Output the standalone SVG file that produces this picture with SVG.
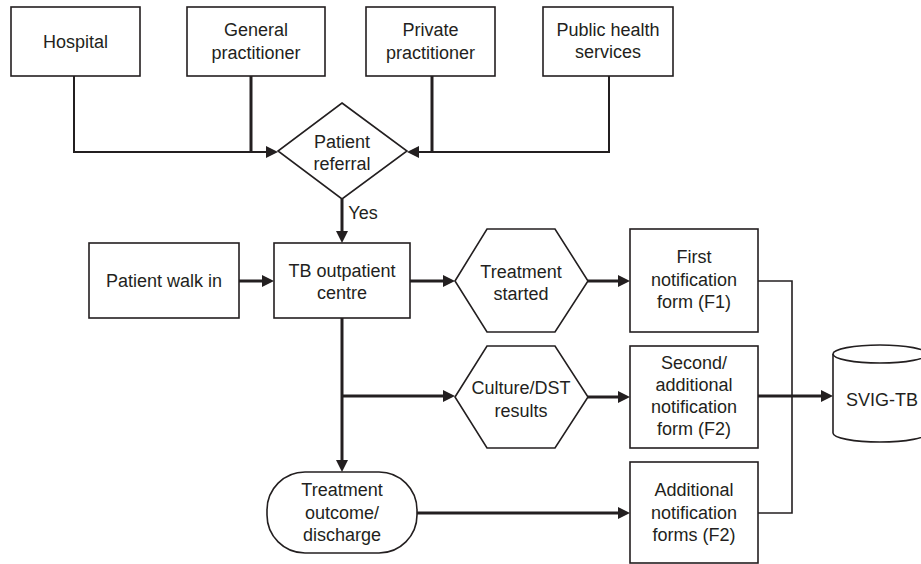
<svg xmlns="http://www.w3.org/2000/svg" width="921" height="564" viewBox="0 0 921 564">
<style>
.n{fill:#fff;stroke:#231f20;stroke-width:1.6}
text{font-family:"Liberation Sans",Arial,sans-serif;font-size:18px;fill:#231f20;text-anchor:middle}
.c{fill:none;stroke:#231f20;stroke-width:3}
.t{fill:none;stroke:#231f20;stroke-width:1.6}
.m{fill:none;stroke:#231f20;stroke-width:2}
.a{fill:#231f20}
</style>
<rect width="921" height="564" fill="#fff"/>
<g id="connectors">
<path class="m" d="M74,76 V152 H266" />
<path class="a" d="M266,146 L278,152 L266,158 z"/>
<path class="c" d="M251,76 V152"/>
<path class="m" d="M251,152 H266"/>
<path class="m" d="M609,76 V152 H419"/>
<path class="a" d="M419,146 L407,152 L419,158 z"/>
<path class="c" d="M432,76 V152"/>
<path class="c" d="M342,199 V231"/>
<path class="a" d="M336,231 L342,243 L348,231 z"/>
<path class="c" d="M239,281 H262"/>
<path class="a" d="M262,275 L274,281 L262,287 z"/>
<path class="c" d="M410,281 H443"/>
<path class="a" d="M443,275 L455,281 L443,287 z"/>
<path class="c" d="M588,281 H618"/>
<path class="a" d="M618,275 L630,281 L618,287 z"/>
<path class="c" d="M342,318 V460"/>
<path class="a" d="M336,460 L342,472 L348,460 z"/>
<path class="c" d="M342,396 H443"/>
<path class="a" d="M443,390 L455,396 L443,402 z"/>
<path class="c" d="M588,397 H618"/>
<path class="a" d="M618,391 L630,397 L618,403 z"/>
<path class="c" d="M417,513 H618"/>
<path class="a" d="M618,507 L630,513 L618,519 z"/>
<path class="t" d="M758,281 H792 V513 H758"/>
<path class="c" d="M758,396 H821"/>
<path class="a" d="M821,390 L833,396 L821,402 z"/>
</g>
<g id="hospital">
<rect class="n" x="11" y="7" width="129" height="69"/>
<text x="75.5" y="48">Hospital</text>
</g>
<g id="general">
<rect class="n" x="187" y="7" width="138" height="69"/>
<text x="256" y="36">General</text>
<text x="256" y="59">practitioner</text>
</g>
<g id="private">
<rect class="n" x="366" y="7" width="129" height="69"/>
<text x="430.5" y="36">Private</text>
<text x="430.5" y="59">practitioner</text>
</g>
<g id="public">
<rect class="n" x="543" y="7" width="130" height="69"/>
<text x="608" y="36">Public health</text>
<text x="608" y="58">services</text>
</g>
<g id="referral">
<polygon class="n" points="342,103 407,151 342,199 278,151"/>
<text x="342" y="148">Patient</text>
<text x="342" y="170">referral</text>
</g>
<text x="363" y="219">Yes</text>
<g id="walkin">
<rect class="n" x="89" y="243" width="150" height="75"/>
<text x="164" y="287">Patient walk in</text>
</g>
<g id="tbcentre">
<rect class="n" x="274" y="243" width="136" height="75"/>
<text x="342" y="277">TB outpatient</text>
<text x="342" y="299">centre</text>
</g>
<g id="started">
<polygon class="n" points="455,281 487,229 555,229 588,281 555,332 487,332"/>
<text x="521" y="278">Treatment</text>
<text x="521" y="300">started</text>
</g>
<g id="culture">
<polygon class="n" points="455,397 487,346 555,346 588,397 555,448 487,448"/>
<text x="521" y="394">Culture/DST</text>
<text x="521" y="417">results</text>
</g>
<g id="outcome">
<rect class="n" x="267" y="472" width="150" height="81" rx="38" ry="38"/>
<text x="342" y="496">Treatment</text>
<text x="342" y="519">outcome/</text>
<text x="342" y="541">discharge</text>
</g>
<g id="f1">
<rect class="n" x="630" y="229" width="128" height="103"/>
<text x="694" y="263">First</text>
<text x="694" y="286">notification</text>
<text x="694" y="308">form (F1)</text>
</g>
<g id="f2">
<rect class="n" x="630" y="346" width="128" height="102"/>
<text x="694" y="369">Second/</text>
<text x="694" y="391">additional</text>
<text x="694" y="413">notification</text>
<text x="694" y="435">form (F2)</text>
</g>
<g id="f2b">
<rect class="n" x="630" y="462" width="128" height="101"/>
<text x="694" y="496">Additional</text>
<text x="694" y="519">notification</text>
<text x="694" y="541">forms (F2)</text>
</g>
<g id="svig">
<path class="n" d="M833,354 V433 A47,9 0 0 0 927,433 V354"/>
<ellipse class="n" cx="880" cy="354" rx="47" ry="9"/>
<text x="882" y="406">SVIG-TB</text>
</g>
</svg>
